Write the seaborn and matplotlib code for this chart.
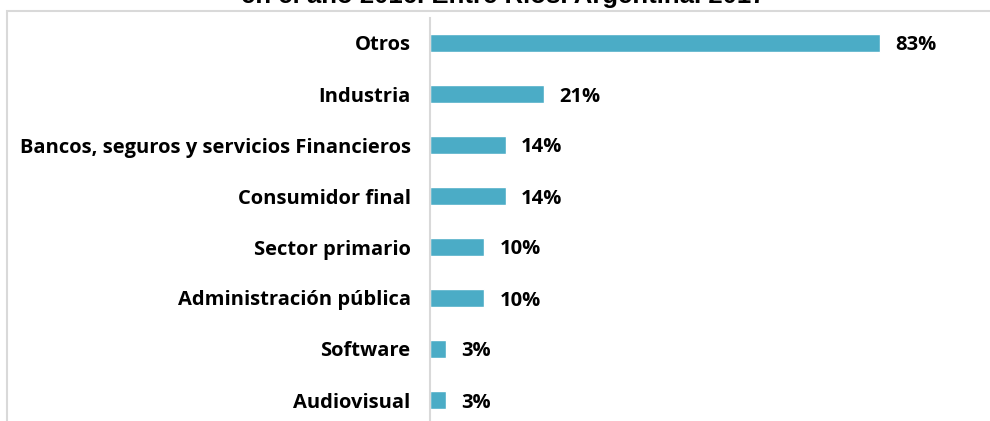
import matplotlib
matplotlib.use("Agg")
import matplotlib.pyplot as plt
import seaborn as sns
import pandas as pd
from matplotlib.patches import Rectangle

# --- Data ---
sectores = ["Otros", "Industria", "Bancos, seguros y servicios Financieros",
            "Consumidor final", "Sector primario", "Administración pública",
            "Software", "Audiovisual"]
porcentajes = [83, 21, 14, 14, 10, 10, 3, 3]
titulo = "en el año 2016. Entre Ríos. Argentina. 2017"

df = pd.DataFrame({"sector": sectores, "pct": porcentajes})

sns.set_theme(style="white")
plt.rcParams["font.family"] = ["Open Sans", "DejaVu Sans"]

W, H, DPI = 990, 421, 100
fig = plt.figure(figsize=(W / DPI, H / DPI), dpi=DPI)

# axes placed in pixel coordinates (bottom edge runs past the figure, as in the crop)
left, right, top, bottom = 430, 972, 17.5, 425.5
ax = fig.add_axes([left / W, (H - bottom) / H, (right - left) / W, (bottom - top) / H])

sns.barplot(data=df, x="pct", y="sector", orient="h", color="#4bacc6",
            width=0.36, saturation=1, ax=ax)
ax.set_xlim(0, 100)
ax.set_ylim(len(sectores) - 0.5, -0.5)

for c in ax.containers:
    lbls = ax.bar_label(c, labels=[f"{v}%" for v in porcentajes], padding=11,
                        fontsize=14.5, fontweight="bold", color="#000000")
    for t in lbls:
        t.set_va("center_baseline")

# axis styling (Excel-like)
for s in ["top", "right", "bottom"]:
    ax.spines[s].set_visible(False)
ax.spines["left"].set_color("#d9d9d9")
ax.spines["left"].set_linewidth(1.5)
ax.set_xticks([])
ax.set_xlabel("")
ax.set_ylabel("")
ax.tick_params(axis="y", which="major", length=0, pad=14)
ax.set_yticks([i + 0.5 for i in range(-1, len(sectores))], minor=True)
ax.tick_params(axis="y", which="minor", length=5, color="#d9d9d9", width=1.5)
for lab in ax.get_yticklabels():
    lab.set_fontweight("bold")
    lab.set_fontsize(14.5)
    lab.set_color("#000000")

# chart border (partially cropped) and cut-off title
fig.patches.append(Rectangle((7 / W, -0.1), 1.2, (H - 11) / H + 0.1,
                             transform=fig.transFigure, fill=False,
                             edgecolor="#d9d9d9", linewidth=1.5))
fig.text(503 / W, (H - 3) / H, titulo, ha="center", va="baseline",
         fontsize=18.5, fontweight="bold", family=["Liberation Sans", "DejaVu Sans"],
         color="#000000")

fig.savefig("out.png", dpi=DPI)
